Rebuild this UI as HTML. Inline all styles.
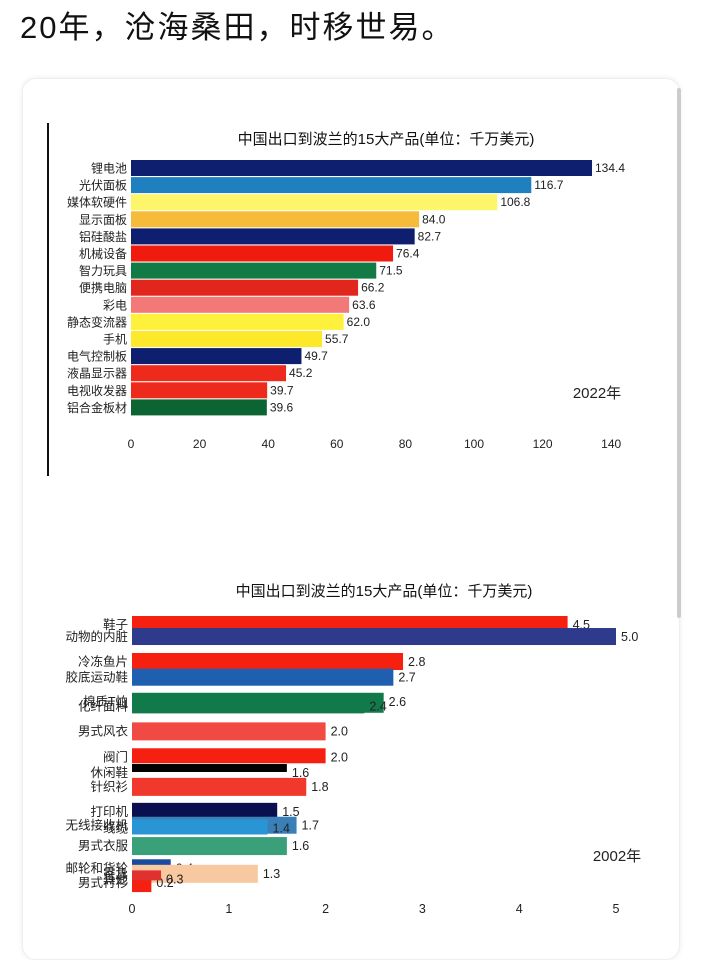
<!DOCTYPE html>
<html><head><meta charset="utf-8">
<style>
body{margin:0;width:702px;height:939px;background:#fff;overflow:hidden;font-family:"Liberation Sans","Noto Sans CJK SC",sans-serif;}
#hd{position:absolute;left:20px;top:2px;font-size:31px;color:#111;letter-spacing:2px;}
#card{position:absolute;left:22px;top:78px;width:656px;height:880px;border-radius:14px;border:1px solid #eee;box-shadow:0 0 6px rgba(0,0,0,0.08);}
#sb{position:absolute;left:677px;top:88px;width:4px;height:530px;background:#ccc;border-radius:2px;}
svg{position:absolute;left:0;top:0;}
</style></head><body>
<div id="hd">20年，沧海桑田，时移世易。</div>
<div id="card"></div>
<div id="sb"></div>
<svg id="c" width="702" height="939" font-family="Liberation Sans, Noto Sans CJK SC, sans-serif"></svg>
<script>
const cats1=["锂电池","光伏面板","媒体软硬件","显示面板","铝硅酸盐","机械设备","智力玩具","便携电脑","彩电","静态变流器","手机","电气控制板","液晶显示器","电视收发器","铝合金板材"];
const vals1=[134.4,116.7,106.8,84.0,82.7,76.4,71.5,66.2,63.6,62.0,55.7,49.7,45.2,39.7,39.6];
const cols1=["#0d1f6e","#1f7fbf","#fdf66a","#f7bb3a","#0d1f6e","#f01a0e","#127a45","#e0261d","#f37878","#fdf13c","#fde92a","#0d1f6e","#ee2a1c","#ee2a1c","#0d6433"];
const ticks1=[0,20,40,60,80,100,120,140];
const cats2=["鞋子","动物的内脏","冷冻鱼片","胶底运动鞋","棉质T恤","化纤面料","男式风衣","阀门","休闲鞋","针织衫","打印机","无线接收机","线缆","男式衣服","邮轮和货轮","家具","男式衬衫","其他"];
const vals2=[4.5,5.0,2.8,2.7,2.6,2.4,2.0,2.0,1.6,1.8,1.5,1.7,1.4,1.6,0.4,1.3,0.2,0.3];
const ranks2=[0,0.65,2.0,2.85,4.15,4.4,5.75,7.15,8.0,8.75,10.1,10.85,11.0,11.95,13.15,13.45,13.95,13.75];
const cols2=["#f5200f","#2e3a8c","#f5200f","#1f5fb0","#127a4a","#127a4a","#f04a42","#f5200f","#000000","#f0382c","#0a0f50","#3a80b8","#2a95d4","#3aa07a","#1a4aa0","#f8c8a0","#f5200f","#e03030"];
const hts2=[17,17,17,17,20,16,18,15,8,18,15,17,15,18,15,18,18,10];
const ticks2=[0,1,2,3,4,5];
const svg=document.getElementById('c');const NS="http://www.w3.org/2000/svg";
function mk(t,a,txt){const e=document.createElementNS(NS,t);for(const k in a)e.setAttribute(k,a[k]);if(txt!==undefined)e.textContent=txt;svg.appendChild(e);return e;}
const x1=v=>131+v*3.43;const y1=i=>160+i*17.1;
let e=mk('line',{x1:48,y1:123,x2:48,y2:476,stroke:'#111','stroke-width':2});

e=mk('text',{x:386,y:144,'text-anchor':'middle','font-size':15,fill:'#111'},'中国出口到波兰的15大产品(单位：千万美元)');

cats1.forEach((c,i)=>{
 let r=mk('rect',{x:x1(0),y:y1(i),width:x1(vals1[i])-x1(0),height:16,fill:cols1[i]});
 
 let t=mk('text',{x:127,y:y1(i)+12.5,'text-anchor':'end','font-size':12,fill:'#222'},c);
 
 let v=mk('text',{x:x1(vals1[i])+3,y:y1(i)+12,'font-size':12,fill:'#222'},vals1[i].toFixed(1));
 
});
ticks1.forEach(t=>{let e=mk('text',{x:x1(t),y:448,'text-anchor':'middle','font-size':12,fill:'#222'},t);
 });
e=mk('text',{x:597,y:398,'text-anchor':'middle','font-size':15,fill:'#222'},'2022年');

const x2=v=>132+v*96.8;const y2=r=>616+r*18.5;
e=mk('text',{x:384,y:596,'text-anchor':'middle','font-size':15,fill:'#111'},'中国出口到波兰的15大产品(单位：千万美元)');

cats2.forEach((c,i)=>{
 let r=mk('rect',{x:x2(0),y:y2(ranks2[i]),width:x2(vals2[i])-x2(0),height:hts2[i],fill:cols2[i]});
 
 let t=mk('text',{x:128,y:y2(ranks2[i])+13,'text-anchor':'end','font-size':12.5,fill:'#222'},c);
 
 let v=mk('text',{x:x2(vals2[i])+5,y:y2(ranks2[i])+13,'font-size':12.5,fill:'#222'},vals2[i].toFixed(1));
 
});
ticks2.forEach(t=>{let e=mk('text',{x:x2(t),y:913,'text-anchor':'middle','font-size':12.5,fill:'#222'},t);
 });
e=mk('text',{x:617,y:861,'text-anchor':'middle','font-size':15,fill:'#222'},'2002年');

</script>
</body></html>
